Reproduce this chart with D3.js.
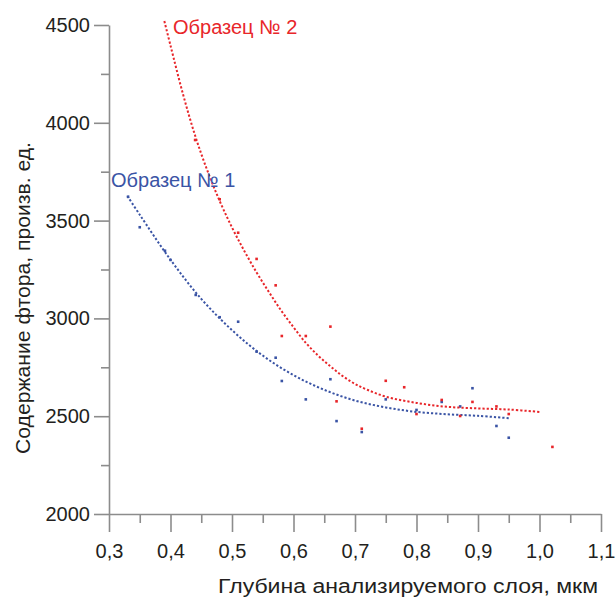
<!DOCTYPE html>
<html>
<head>
<meta charset="utf-8">
<script src="https://cdn.jsdelivr.net/npm/d3@7"></script>
<style>
  body { margin: 0; background: #fff; }
</style>
</head>
<body>
<div id="chart"></div>
<script>
// measured points, sample 1 (blue)
const depth1 = [0.331, 0.350, 0.391, 0.400, 0.441, 0.480, 0.510, 0.540, 0.571, 0.581, 0.620, 0.660, 0.670, 0.711, 0.750, 0.800, 0.841, 0.871, 0.891, 0.930, 0.950];
const fluor1 = [3622, 3466, 3346, 3299, 3120, 3006, 2983, 2830, 2799, 2680, 2586, 2689, 2475, 2419, 2586, 2532, 2573, 2550, 2643, 2450, 2390];

// measured points, sample 2 (red)
const depth2 = [0.440, 0.480, 0.510, 0.540, 0.571, 0.581, 0.620, 0.660, 0.670, 0.711, 0.750, 0.780, 0.800, 0.841, 0.871, 0.891, 0.930, 0.950, 1.021];
const fluor2 = [3912, 3609, 3438, 3304, 3169, 2910, 2910, 2958, 2576, 2436, 2681, 2648, 2511, 2583, 2501, 2573, 2550, 2511, 2343];

// trend lines
const trendDepth1 = [0.33, 0.35, 0.40, 0.45, 0.50, 0.55, 0.60, 0.65, 0.70, 0.75, 0.80, 0.85, 0.90, 0.95];
const trendFluor1 = [3625, 3530, 3300, 3100, 2940, 2810, 2710, 2635, 2580, 2545, 2522, 2510, 2502, 2490];
const trendDepth2 = [0.39, 0.40, 0.42, 0.44, 0.46, 0.48, 0.50, 0.52, 0.54, 0.56, 0.58, 0.60, 0.62, 0.64, 0.66, 0.68, 0.70, 0.72, 0.75, 0.80, 0.85, 0.90, 0.95, 1.00];
const trendFluor2 = [4520, 4395, 4150, 3935, 3755, 3600, 3465, 3345, 3235, 3135, 3040, 2955, 2875, 2810, 2755, 2705, 2665, 2635, 2600, 2568, 2548, 2540, 2534, 2522];

// axis ticks
const xTicks = [0.3, 0.4, 0.5, 0.6, 0.7, 0.8, 0.9, 1.0, 1.1];
const xMinor = [0.35, 0.45, 0.55, 0.65, 0.75, 0.85, 0.95, 1.05];
const yTicks = [2000, 2500, 3000, 3500, 4000, 4500];
const yMinor = [2250, 2750, 3250, 3750, 4250];

const series = [
  { name: "Образец № 1", color: "#3a54a5", x: depth1, y: fluor1, tx: trendDepth1, ty: trendFluor1 },
  { name: "Образец № 2", color: "#e8262a", x: depth2, y: fluor2, tx: trendDepth2, ty: trendFluor2 },
];

const font = "'Liberation Sans', Arial, sans-serif";
const axisColor = "#8c8c8c";
const textColor = "#231f20";

// set the dimensions and margins of the graph
const W = 616, H = 597;
const margin = { top: 25, right: 15, bottom: 83, left: 109 },
  width = W - margin.left - margin.right,
  height = H - margin.top - margin.bottom;

const svg = d3
  .select("#chart")
  .append("svg")
  .attr("width", W)
  .attr("height", H);

const g = svg.append("g").attr("transform", `translate(${margin.left},${margin.top})`);

const x = d3.scaleLinear().domain([0.3, 1.1]).range([0, width]);
const y = d3.scaleLinear().domain([2000, 4500]).range([height, 0]);

const fmt = (d) => d3.format(".1f")(d).replace(".", ",");

function styleAxis(sel) {
  sel.attr("font-family", font).attr("font-size", 20);
  sel.selectAll("path, line").attr("stroke", axisColor).attr("stroke-width", 1.6);
  sel.selectAll("text").attr("fill", textColor);
}

// minor ticks first, then major
g.append("g")
  .attr("transform", `translate(0,${height})`)
  .call(d3.axisBottom(x).tickValues(xMinor).tickSize(9).tickSizeOuter(0).tickFormat(""))
  .call(styleAxis)
  .call((s) => s.select(".domain").remove());

g.append("g")
  .attr("transform", `translate(0,${height})`)
  .call(d3.axisBottom(x).tickValues(xTicks).tickSize(18).tickSizeOuter(0).tickPadding(12).tickFormat(fmt))
  .call(styleAxis);

g.append("g")
  .call(d3.axisLeft(y).tickValues(yMinor).tickSize(8).tickSizeOuter(0).tickFormat(""))
  .call(styleAxis)
  .call((s) => s.select(".domain").remove());

g.append("g")
  .call(d3.axisLeft(y).tickValues(yTicks).tickSize(15).tickSizeOuter(0).tickPadding(4).tickFormat(d3.format("d")))
  .call(styleAxis);

// trend lines (dotted)
const line = d3
  .line()
  .x((d) => x(d[0]))
  .y((d) => y(d[1]))
  .curve(d3.curveCatmullRom);

series.forEach((s) => {
  g.append("path")
    .datum(s.tx.map((v, i) => [v, s.ty[i]]))
    .attr("fill", "none")
    .attr("stroke", s.color)
    .attr("stroke-width", 2)
    .attr("stroke-dasharray", "2.2,2")
    .attr("d", line);

  g.append("g")
    .selectAll("rect")
    .data(s.x.map((v, i) => [v, s.y[i]]))
    .join("rect")
    .attr("x", (d) => x(d[0]) - 1.3)
    .attr("y", (d) => y(d[1]) - 1.3)
    .attr("width", 2.6)
    .attr("height", 2.6)
    .attr("fill", s.color);
});

// series labels
svg.append("text")
  .attr("x", 173).attr("y", 34)
  .attr("font-family", font).attr("font-size", 20)
  .attr("fill", series[1].color)
  .text(series[1].name);

svg.append("text")
  .attr("x", 111).attr("y", 187)
  .attr("font-family", font).attr("font-size", 20)
  .attr("fill", series[0].color)
  .text(series[0].name);

// axis titles
svg.append("text")
  .attr("x", 218).attr("y", 593)
  .attr("font-family", font).attr("font-size", 20)
  .attr("textLength", 380)
  .attr("lengthAdjust", "spacingAndGlyphs")
  .attr("fill", textColor)
  .text("Глубина анализируемого слоя, мкм");

svg.append("text")
  .attr("transform", "translate(30,298) rotate(-90)")
  .attr("text-anchor", "middle")
  .attr("font-family", font).attr("font-size", 20)
  .attr("textLength", 312)
  .attr("lengthAdjust", "spacingAndGlyphs")
  .attr("fill", textColor)
  .text("Содержание фтора, произв. ед.");
</script>
</body>
</html>
